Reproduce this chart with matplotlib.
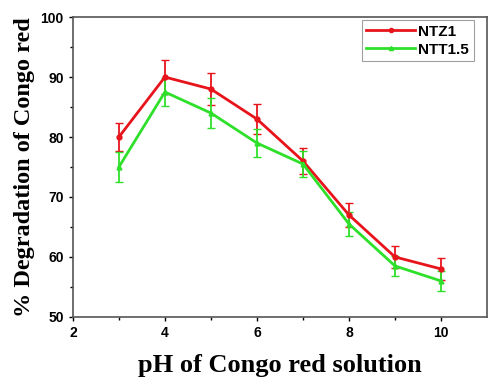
import matplotlib
matplotlib.use('Agg')
import matplotlib.pyplot as plt
from matplotlib.lines import Line2D

ph = [3, 4, 5, 6, 7, 8, 9, 10]
ntz1 = [80, 90, 88, 83, 76, 67, 60, 58]
ntz1_err = [2.3, 2.8, 2.6, 2.5, 2.2, 2.0, 1.9, 1.8]
ntt15 = [75, 87.5, 84, 79, 75.5, 65.5, 58.5, 56]
ntt15_err = [2.5, 2.4, 2.5, 2.3, 2.1, 2.0, 1.7, 1.6]

red = '#e8141c'
green = '#2ee02a'

fig = plt.figure(figsize=(4.89, 3.8), dpi=100)
ax = fig.add_axes([0.149, 0.166, 0.847, 0.789])

ax.errorbar(ph, ntz1, yerr=ntz1_err, color=red, marker='o', markersize=3.5,
            linewidth=2, elinewidth=1.3, capsize=3)
ax.errorbar(ph, ntt15, yerr=ntt15_err, color=green, marker='^', markersize=3.5,
            linewidth=2, elinewidth=1.3, capsize=3)

ax.set_xlim(2, 11)
ax.set_ylim(50, 100)
ax.set_xticks([2, 4, 6, 8, 10])
ax.set_xticks([3, 5, 7, 9], minor=True)
ax.set_yticks([50, 60, 70, 80, 90, 100])
ax.set_yticks([55, 65, 75, 85, 95], minor=True)
ax.tick_params(which='major', direction='out', length=3, width=1, labelsize=10)
ax.tick_params(which='minor', direction='out', length=2, width=1)
for lbl in ax.get_xticklabels() + ax.get_yticklabels():
    lbl.set_fontweight('bold')
    lbl.set_family('Liberation Sans')

for s in ax.spines.values():
    s.set_color('#555555')
    s.set_linewidth(1.2)

ax.set_xlabel('pH of Congo red solution', family='Liberation Serif',
              fontweight='bold', fontsize=19, labelpad=10)
ax.set_ylabel('% Degradation of Congo red', family='Liberation Serif',
              fontweight='bold', fontsize=17.5, labelpad=4)

handles = [Line2D([], [], color=red, marker='o', markersize=3, linewidth=2),
           Line2D([], [], color=green, marker='^', markersize=3, linewidth=2)]
leg = ax.legend(handles, ['NTZ1', 'NTT1.5'], loc='upper right', fancybox=False,
                edgecolor='#888888',
                prop={'family': 'Liberation Sans', 'weight': 'bold', 'size': 11},
                handlelength=3.2, handletextpad=0.2, borderpad=0.3,
                labelspacing=0.25, borderaxespad=0.2,
                bbox_to_anchor=(0.975, 1.0))
leg.get_frame().set_linewidth(0.8)

fig.savefig('out.png', dpi=100)
